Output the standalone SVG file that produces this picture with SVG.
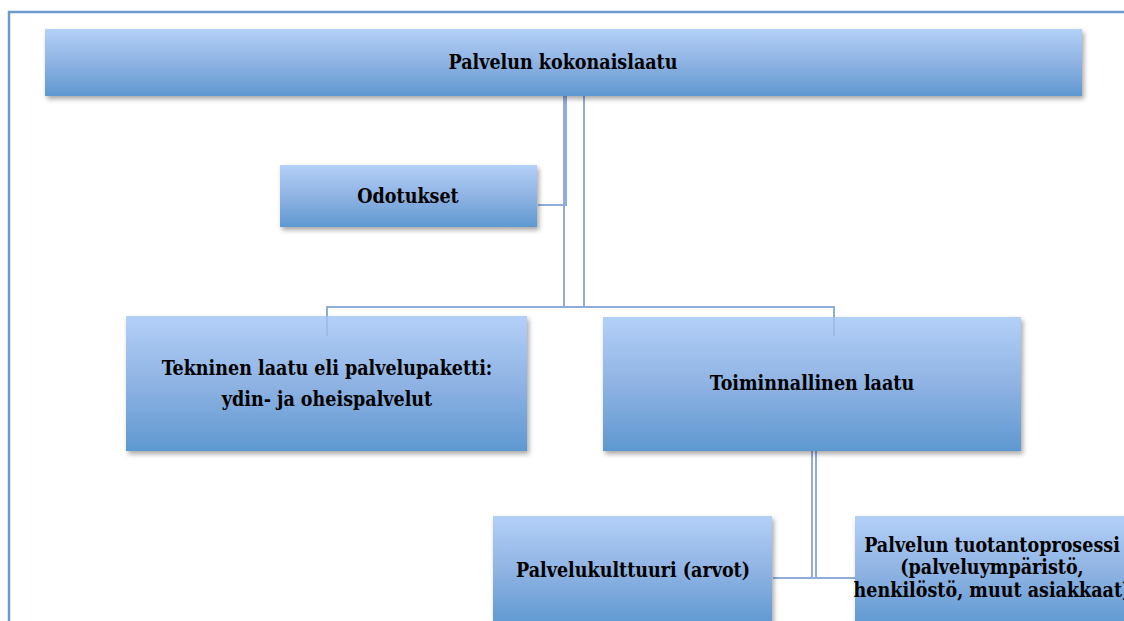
<svg xmlns="http://www.w3.org/2000/svg" width="1124" height="621" viewBox="0 0 1124 621">
<defs>
<linearGradient id="g" x1="0" y1="0" x2="0" y2="1">
<stop offset="0" stop-color="#b3d0f8"/>
<stop offset="0.5" stop-color="#8fb3e3"/>
<stop offset="1" stop-color="#5e98d1"/>
</linearGradient>
<filter id="sh" x="-5%" y="-10%" width="112%" height="130%">
<feDropShadow dx="2" dy="3" stdDeviation="2.5" flood-color="#000" flood-opacity="0.35"/>
</filter>
<style>
.box{fill:url(#g);filter:url(#sh)}
.t{font-family:"DejaVu Serif Condensed","DejaVu Serif",serif;font-stretch:condensed;font-weight:bold;font-size:19.5px;fill:#000;text-anchor:middle}
.c{fill:none;stroke:#8fadd8;stroke-width:2}
</style>
</defs>
<rect width="1124" height="621" fill="#fff"/>
<path d="M9 621 V12 H1124" fill="none" stroke="#6c9bd0" stroke-width="2.5"/>
<g id="connectors">
<path class="c" d="M538 205 H566 V96"/>
<path class="c" d="M564 96 V307"/>
<path class="c" d="M584 96 V307"/>
<path class="c" d="M327 336 V307 H834 V336"/>
<path class="c" d="M812 451 V578"/>
<path class="c" d="M816 451 V578"/>
<path class="c" d="M773 578 H855"/>
</g>
<g id="n-kokonaislaatu">
<rect class="box" x="45" y="29" width="1037" height="67"/>
<text class="t" x="563" y="69">Palvelun kokonaislaatu</text>
</g>
<g id="n-odotukset">
<rect class="box" x="280" y="165" width="257" height="62"/>
<text class="t" x="408" y="203">Odotukset</text>
</g>
<g id="n-tekninen">
<rect class="box" x="126" y="316" width="401" height="135"/>
<text class="t" x="327" y="375">Tekninen laatu eli palvelupaketti:</text>
<text class="t" x="327" y="406">ydin- ja oheispalvelut</text>
</g>
<g id="n-toiminnallinen">
<rect class="box" x="603" y="317" width="418" height="134"/>
<text class="t" x="812" y="390">Toiminnallinen laatu</text>
</g>
<g id="n-kulttuuri">
<rect class="box" x="493" y="516" width="279" height="110"/>
<text class="t" x="633" y="577">Palvelukulttuuri (arvot)</text>
</g>
<g id="n-prosessi">
<rect class="box" x="855" y="516" width="274" height="110"/>
<text class="t" x="992" y="552">Palvelun tuotantoprosessi</text>
<text class="t" x="992" y="574">(palveluympäristö,</text>
<text class="t" x="992" y="597">henkilöstö, muut asiakkaat)</text>
</g>
<path class="c" d="M327 307 V336" opacity="0.5"/>
<path class="c" d="M834 307 V336" opacity="0.5"/>
</svg>
